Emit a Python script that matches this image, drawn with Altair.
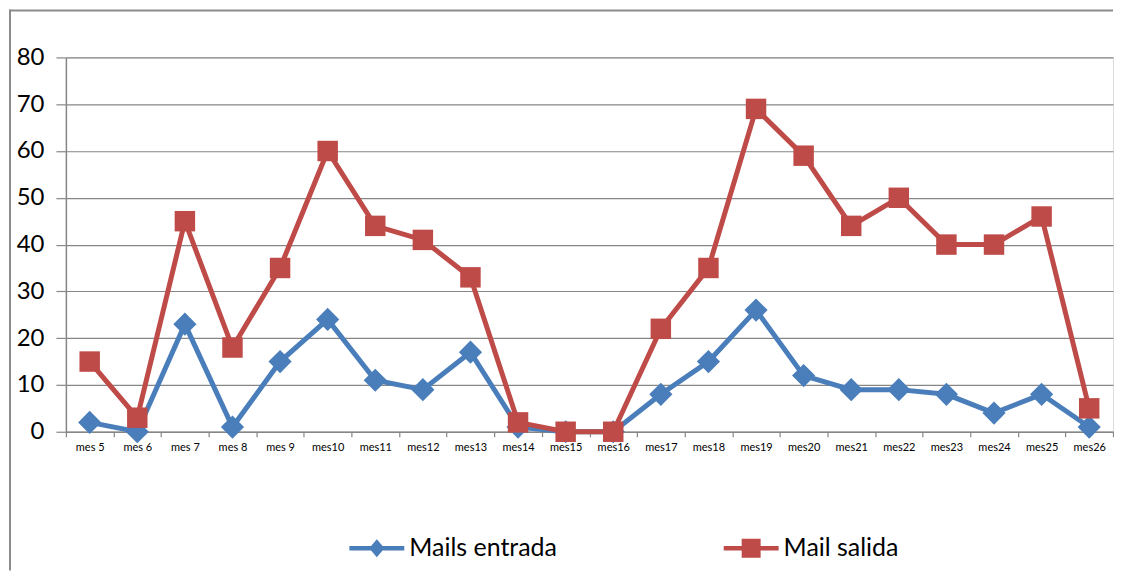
import altair as alt
import pandas as pd

months = ["mes 5", "mes 6", "mes 7", "mes 8", "mes 9", "mes10", "mes11", "mes12",
          "mes13", "mes14", "mes15", "mes16", "mes17", "mes18", "mes19", "mes20",
          "mes21", "mes22", "mes23", "mes24", "mes25", "mes26"]
entrada = [2, 0, 23, 1, 15, 24, 11, 9, 17, 1, 0, 0, 8, 15, 26, 12, 9, 9, 8, 4, 8, 1]
salida = [15, 3, 45, 18, 35, 60, 44, 41, 33, 2, 0, 0, 22, 35, 69, 59, 44, 50, 40, 40, 46, 5]
series_names = ["Mails entrada", "Mail salida"]
series_colors = ["#4A7EBB", "#BE4B48"]
y_ticks = [0, 10, 20, 30, 40, 50, 60, 70, 80]

df = pd.DataFrame({
    "mes": months * 2,
    "valor": entrada + salida,
    "serie": [series_names[0]] * len(months) + [series_names[1]] * len(months),
})

W, H = 1049, 375
GRAY = "#868686"
FONT = "Lato"

# legend symbols: line with a diamond / square marker in the middle
diamond_path = ("M-1,-0.085L-0.21,-0.085L0,-0.33L0.21,-0.085L1,-0.085L1,0.085"
                "L0.21,0.085L0,0.33L-0.21,0.085L-1,0.085Z")
square_path = ("M-1,-0.085L-0.345,-0.085L-0.345,-0.345L0.345,-0.345L0.345,-0.085"
               "L1,-0.085L1,0.085L0.345,0.085L0.345,0.345L-0.345,0.345L-0.345,0.085"
               "L-1,0.085Z")

legend = alt.Legend(
    title=None, orient="none", legendX=284, legendY=464, direction="horizontal",
    symbolSize=3025, labelFont=FONT, labelFontSize=25, labelColor="black",
    labelOffset=5, columnPadding=166, symbolStrokeWidth=0, symbolOpacity=1,
)

color_legend = alt.Color("serie:N", scale=alt.Scale(domain=series_names, range=series_colors),
                         legend=legend)
shape_legend = alt.Shape("serie:N", scale=alt.Scale(domain=series_names,
                                                    range=[diamond_path, square_path]),
                         legend=legend)

x = alt.X("mes:N", sort=months,
          scale=alt.Scale(type="band", paddingInner=0, paddingOuter=0),
          bandPosition=0.5,
          axis=alt.Axis(title=None, labelAngle=0, tickBand="extent", grid=False,
                        domainColor=GRAY, domainWidth=1.5, tickColor=GRAY, tickWidth=1.2,
                        tickSize=5, labelFont=FONT, labelFontSize=11, labelColor="black",
                        labelPadding=5))
y = alt.Y("valor:Q", scale=alt.Scale(domain=[0, 80], nice=False, zero=True),
          axis=alt.Axis(title=None, values=y_ticks, grid=True, gridColor=GRAY,
                        gridWidth=1.2, domainColor=GRAY, domainWidth=1.5,
                        tickColor=GRAY, tickWidth=1.2, tickSize=10, labelPadding=12,
                        labelFont=FONT, labelFontSize=24, labelColor="black"))

base = alt.Chart(df).encode(x=x, y=y)

layers = []
for name, col, shp, size in [(series_names[0], series_colors[0], "diamond", 540),
                             (series_names[1], series_colors[1], "square", 420)]:
    sub = base.transform_filter(alt.datum.serie == name)
    layers.append(sub.mark_line(strokeWidth=5, color=col))
    layers.append(sub.mark_point(filled=True, shape=shp, size=size, opacity=1, color=col))

# legend-carrying layer: its points have zero size, so only the legend shows
legend_layer = alt.Chart(df).mark_point(filled=True, size=0, opacity=1).encode(
    x=x, y=y, color=color_legend, shape=shape_legend)

one = alt.Data(values=[{}])
border_top = alt.Chart(one).mark_rule(color="#8c8c8c", strokeWidth=2).encode(
    x=alt.value(-57), x2=alt.value(W), y=alt.value(-47))
border_left = alt.Chart(one).mark_rule(color="#8c8c8c", strokeWidth=2).encode(
    x=alt.value(-56), y=alt.value(-48), y2=alt.value(514))

chart = alt.layer(*layers, legend_layer, border_top, border_left).properties(
    width=W, height=H,
    padding={"left": 0, "top": 0, "right": 0, "bottom": 0},
).configure_view(stroke=None).configure(background="white")

chart.save("out.html", embed_options={"renderer": "svg", "actions": False})
